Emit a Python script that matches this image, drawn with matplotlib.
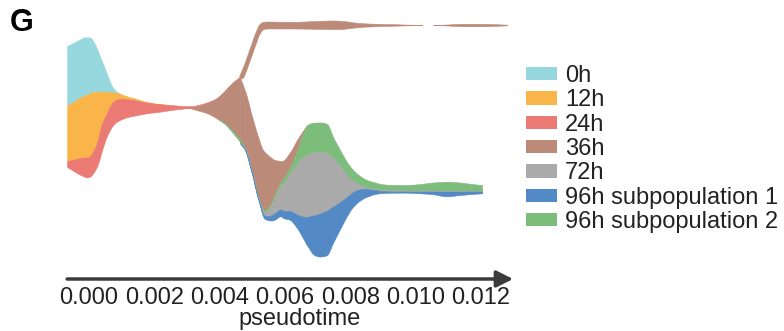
import numpy as np
import matplotlib
matplotlib.use("Agg")
import matplotlib.pyplot as plt
from matplotlib.patches import Patch

plt.rcParams['font.family'] = ['Liberation Sans', 'DejaVu Sans']

labels = ['0h', '12h', '24h', '36h', '72h', '96h subpopulation 1', '96h subpopulation 2']
colors = ['#97d7de', '#f9b549', '#ea7a73', '#bc8a78', '#aaaaaa', '#538ac5', '#7cbd7c']
ticks = [0.000, 0.002, 0.004, 0.006, 0.008, 0.010, 0.012]

# trunk of the stream (0h -> 36h), top edge + layer widths
trunk_time = [-0.00067, -0.00052, -0.00034, -0.00012, 0.00003, 0.00015, 0.00025, 0.00034, 0.00043,
              0.00055, 0.00064, 0.00074, 0.00086, 0.00101, 0.00119, 0.00141, 0.00172, 0.00217,
              0.00263, 0.00294, 0.00316, 0.00340, 0.00364, 0.00389, 0.00414, 0.00438, 0.00462]
trunk_top = [234, 236.5, 239.5, 242.7, 242.5, 237.5, 231, 223.3, 216, 206, 198.3, 192, 188, 185.5,
             183.5, 181.5, 178.5, 176, 174.7, 174, 174, 175.5, 178, 181.5, 188.5, 197, 203.3]
trunk_0h = [59, 59.5, 58.5, 58.2, 55.5, 49.5, 42.7, 35, 27.7, 17.7, 10.3, 4.5, 0.8, 0, 0, 0, 0, 0,
            0, 0, 0, 0, 0, 0, 0, 0, 0]
trunk_12h = [56, 57, 59.5, 62, 63, 58, 50.3, 38.3, 29.3, 21.3, 14.5, 9.5, 6.7, 4.3, 2.8, 1.8, 0.8,
             0.3, 0, 0, 0, 0, 0, 0, 0, 0, 0]
trunk_24h = [6, 10, 15, 19.5, 20.5, 22, 24, 27, 26, 23, 23.5, 23, 22, 20.2, 17.7, 15.2, 11.2, 7.4,
             4.2, 2.3, 1.3, 1.5, 1.0, 0.5, 0.2, 0, 0]
trunk_36h = [0] * 19 + [0, 1.5, 5, 10.5, 19, 31.3, 47.5, 62.5]
trunk_96h2 = [0] * 24 + [0.5, 1.5, 2.5]

# lower branch (36h -> 72h / 96h)
low_time = [0.00462, 0.00481, 0.00499, 0.00518, 0.00533, 0.00548, 0.00570, 0.00591, 0.00616,
            0.00637, 0.00655, 0.00671, 0.00686, 0.00708, 0.00729, 0.00747, 0.00769, 0.00790,
            0.00809, 0.00830, 0.00851, 0.00876, 0.00900, 0.00937, 0.00974, 0.01014, 0.01054,
            0.01096, 0.01136, 0.01173, 0.01204]
low_top = [203, 186, 164, 143, 130, 125, 120, 119, 128, 140, 149, 155.5, 157.3, 157.5, 156, 143.3,
           130, 118, 110, 104, 100, 97.5, 95.7, 95, 95, 96, 97.5, 98.3, 97.5, 96, 95]
low_36h = [62.5, 56.5, 55.5, 59.5, 59, 53, 34, 19, 15, 11, 3] + [0] * 20
low_96h2 = [2.5, 1.0, 1.0, 1.0, 2, 2.5, 3.5, 4.5, 7, 13, 23.5, 30, 29.8, 29.5, 29.3, 21.3, 16, 13,
            10.5, 9, 7.5, 6.5, 5.5, 5.3, 5.5, 6.5, 8, 9, 8.2, 6.7, 5.7]
low_72h = [0.5, 0.6, 0.6, 0.8, 2.5, 5.5, 15.5, 25.5, 37, 50.5, 59, 62.2, 63, 61.5, 57.2, 48.7, 36,
           22, 11.5, 4.3, 1.3, 1, 1.2, 1.2, 1, 1, 1, 0.8, 0.8, 0.8, 0.8]
low_96h1 = [0.5, 0.6, 0.6, 0.7, 3, 4, 6.5, 7, 9, 13.5, 21.5, 30.3, 38.5, 43, 44.5, 36.3, 27, 19,
            14.7, 11.2, 7.9, 4, 2, 1.2, 1.2, 1.8, 2.8, 4.8, 3.5, 2.5, 1.8]

# upper branch (36h only)
up_time = [0.00462, 0.00475, 0.00487, 0.00499, 0.00511, 0.00524, 0.00536, 0.00548, 0.00585,
           0.00631, 0.00677, 0.00723, 0.00753, 0.00784, 0.00815, 0.00845, 0.00891, 0.00937,
           0.00983, 0.01014, 0.01044, 0.01075, 0.01112, 0.01152, 0.01191, 0.01228, 0.01259, 0.01283]
up_top = [204, 214, 225, 236, 247, 255.5, 257.7, 258, 257.8, 257.7, 258.2, 258.8, 259, 258.3, 257,
          256.2, 255.6, 255.3, 254.8, 254.55, 254.5, 254.65, 255.25, 255.75, 255.75, 255.5, 255.15, 254.8]
up_36h = [3, 11, 12, 12, 12, 9.5, 7.2, 7, 6.8, 6.7, 7.4, 8.3, 8.7, 7.5, 5, 3.4, 2.2, 1.5, 0.6, 0.1,
          0, 0.3, 1.5, 2.5, 2.5, 2, 1.3, 0.6]

col = dict(zip(labels, colors))


def pchip(x, y, xn):
    x = np.asarray(x, float)
    y = np.asarray(y, float)
    h = np.diff(x)
    d = np.diff(y) / h
    m = np.zeros_like(y)
    for k in range(1, len(x) - 1):
        if d[k - 1] * d[k] > 0:
            w1 = 2 * h[k] + h[k - 1]
            w2 = h[k] + 2 * h[k - 1]
            m[k] = (w1 + w2) / (w1 / d[k - 1] + w2 / d[k])
    m[0] = d[0]
    m[-1] = d[-1]
    i = np.clip(np.searchsorted(x, xn) - 1, 0, len(x) - 2)
    s = (xn - x[i]) / h[i]
    return ((2 * s**3 - 3 * s**2 + 1) * y[i] + (s**3 - 2 * s**2 + s) * h[i] * m[i]
            + (-2 * s**3 + 3 * s**2) * y[i + 1] + (s**3 - s**2) * h[i] * m[i + 1])


def draw_segment(ax, t, top, layers):
    tt = np.linspace(t[0], t[-1], 600)
    upper = pchip(t, top, tt)
    for name, w in layers:
        ww = np.clip(pchip(t, w, tt), 0, None)
        lower = upper - ww
        ax.fill_between(tt, lower, upper, where=ww > 0.05, color=col[name],
                        edgecolor=col[name], lw=0.4)
        upper = lower


fig = plt.figure(figsize=(7.84, 3.31), dpi=100)
ax = fig.add_axes([0, 51 / 331, 1, 280 / 331])

draw_segment(ax, up_time, up_top, [('36h', up_36h)])
draw_segment(ax, low_time, low_top, [('36h', low_36h), ('96h subpopulation 2', low_96h2),
                                     ('72h', low_72h), ('96h subpopulation 1', low_96h1)])
draw_segment(ax, trunk_time, trunk_top, [('0h', trunk_0h), ('12h', trunk_12h), ('24h', trunk_24h),
                                         ('36h', trunk_36h), ('96h subpopulation 2', trunk_96h2)])

ax.set_xlim(-0.002726, 0.021286)
ax.set_ylim(0, 280)
for s in ax.spines.values():
    s.set_visible(False)
ax.set_yticks([])
ax.set_xticks(ticks)
ax.set_xticklabels(['%.3f' % v for v in ticks])
ax.tick_params(axis='x', length=0, pad=5, labelsize=17, labelcolor='#222222')
ax.set_xlabel('pseudotime', fontsize=17, color='#222222')
ax.xaxis.set_label_coords(300 / 784, -28 / 280)

ax.annotate('', xy=(0.01299, 1), xytext=(-0.00067, 1),
            arrowprops=dict(arrowstyle='-|>,head_length=0.5,head_width=0.25', color='#3b3b3b',
                            lw=2.5, mutation_scale=20, shrinkA=0, shrinkB=0),
            annotation_clip=False)

handles = [Patch(facecolor=c, edgecolor='none') for c in colors]
fig.legend(handles, labels, loc='upper left', bbox_to_anchor=(526 / 784, 1 - 65 / 331),
           frameon=False, fontsize=17, handlelength=1.3, handleheight=0.48,
           handletextpad=0.35, labelspacing=0.1, borderpad=0, borderaxespad=0,
           labelcolor='#222222')

fig.text(10 / 784, 1 - 8 / 331, 'G', fontsize=22, fontweight='bold', va='top', ha='left')

fig.savefig('out.png', dpi=100)
